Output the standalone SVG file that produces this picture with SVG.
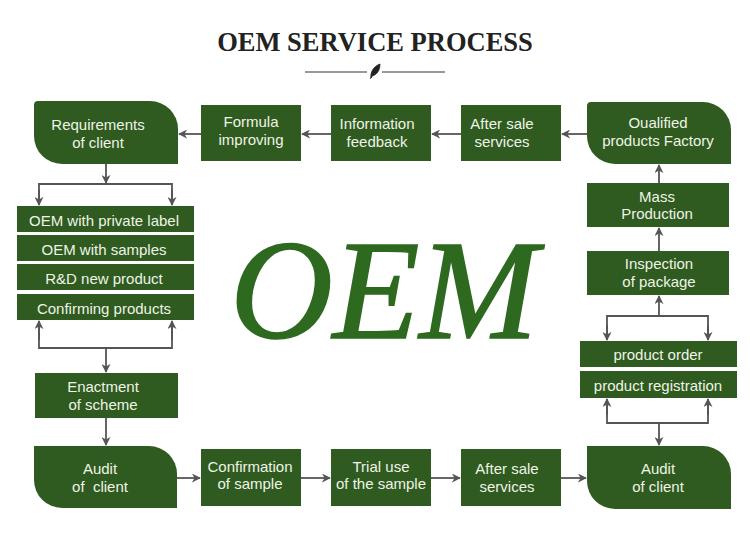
<svg xmlns="http://www.w3.org/2000/svg" width="750" height="537" viewBox="0 0 750 537">
<defs>
<style>
.b{fill:#2f5a20;}
.t{font-family:"Liberation Sans",Arial,sans-serif;font-size:15px;fill:#eef4e6;text-anchor:middle;}
.c{stroke:#555;stroke-width:1.8;fill:none;}
.a{stroke:#555;stroke-width:1.8;fill:none;marker-end:url(#ah);}
</style>
<marker id="ah" viewBox="0 0 10 10" refX="9" refY="5" markerWidth="5" markerHeight="5" orient="auto" markerUnits="strokeWidth">
<path d="M0,0 L10,5 L0,10 L3,5 Z" fill="#555"/>
</marker>
</defs>
<rect width="750" height="537" fill="#ffffff"/>

<g id="title">
<text x="375" y="51" font-family="Liberation Serif,Times New Roman,serif" font-weight="bold" font-size="26.5" fill="#222" text-anchor="middle">OEM SERVICE PROCESS</text>
<line x1="305" y1="72" x2="367" y2="72" stroke="#333" stroke-width="1"/>
<line x1="382" y1="72" x2="445" y2="72" stroke="#333" stroke-width="1"/>
<path d="M371,78 C370,72 374,66 380,64 C380,70 377,75 372,76 Z M372,76 L370,79" fill="#222" stroke="#222" stroke-width="0.8"/>
</g>

<g id="oem-big">
<text x="384" y="338" font-family="Liberation Serif,Times New Roman,serif" font-style="italic" font-size="142" fill="#2d6a1f" stroke="#2d6a1f" stroke-width="1.6" text-anchor="middle">OEM</text>
</g>

<g id="requirements">
<path class="b" d="M38,101 H150 A28,28 0 0 1 178,129 V164 H62 A28,28 0 0 1 34,136 V105 A4,4 0 0 1 38,101 Z"/>
<text class="t" x="98" y="130">Requirements</text>
<text class="t" x="98" y="148">of client</text>
</g>
<g id="formula">
<rect class="b" x="201" y="105" width="100" height="56"/>
<text class="t" x="251" y="127">Formula</text>
<text class="t" x="251" y="145">improving</text>
</g>
<g id="information">
<rect class="b" x="331" y="105" width="100" height="56"/>
<text class="t" x="377" y="129">Information</text>
<text class="t" x="377" y="147">feedback</text>
</g>
<g id="aftersale-top">
<rect class="b" x="461" y="105" width="100" height="56"/>
<text class="t" x="502" y="129">After sale</text>
<text class="t" x="502" y="147">services</text>
</g>
<g id="qualified">
<path class="b" d="M591,102 H703 A28,28 0 0 1 731,130 V164 H615 A28,28 0 0 1 587,136 V106 A4,4 0 0 1 591,102 Z"/>
<text class="t" x="658" y="128">Oualified</text>
<text class="t" x="658" y="146">products Factory</text>
</g>
<g id="mass">
<rect class="b" x="587" y="183" width="142" height="44"/>
<text class="t" x="657" y="202">Mass</text>
<text class="t" x="657" y="219">Production</text>
</g>
<g id="inspection">
<rect class="b" x="587" y="251" width="142" height="44"/>
<text class="t" x="659" y="269">Inspection</text>
<text class="t" x="659" y="287">of package</text>
</g>
<g id="product-order">
<rect class="b" x="580" y="341" width="157" height="26"/>
<text class="t" x="658" y="360">product order</text>
</g>
<g id="product-registration">
<rect class="b" x="580" y="371" width="157" height="27"/>
<text class="t" x="658" y="391">product registration</text>
</g>

<g id="list-1">
<rect class="b" x="17" y="206" width="177" height="26"/>
<text class="t" x="104" y="226">OEM with private label</text>
</g>
<g id="list-2">
<rect class="b" x="17" y="235" width="177" height="26"/>
<text class="t" x="104" y="255">OEM with samples</text>
</g>
<g id="list-3">
<rect class="b" x="17" y="264" width="177" height="26"/>
<text class="t" x="104" y="284">R&amp;D new product</text>
</g>
<g id="list-4">
<rect class="b" x="17" y="294" width="177" height="26"/>
<text class="t" x="104" y="314">Confirming products</text>
</g>
<g id="enactment">
<rect class="b" x="35" y="373" width="143" height="45"/>
<text class="t" x="103" y="392">Enactment</text>
<text class="t" x="103" y="410">of scheme</text>
</g>
<g id="audit-left">
<path class="b" d="M34,446 H149 A28,28 0 0 1 177,474 V508 H62 A28,28 0 0 1 34,480 Z"/>
<text class="t" x="100" y="474">Audit</text>
<text class="t" x="100" y="492" xml:space="preserve">of  client</text>
</g>
<g id="confirmation">
<rect class="b" x="201" y="449" width="100" height="57"/>
<text class="t" x="250" y="472">Confirmation</text>
<text class="t" x="250" y="489">of sample</text>
</g>
<g id="trial">
<rect class="b" x="331" y="449" width="100" height="57"/>
<text class="t" x="381" y="472">Trial use</text>
<text class="t" x="381" y="489">of the sample</text>
</g>
<g id="aftersale-bottom">
<rect class="b" x="461" y="449" width="100" height="57"/>
<text class="t" x="507" y="474">After sale</text>
<text class="t" x="507" y="492">services</text>
</g>
<g id="audit-right">
<path class="b" d="M587,446 H703 A28,28 0 0 1 731,474 V509 H615 A28,28 0 0 1 587,481 Z"/>
<text class="t" x="658" y="474">Audit</text>
<text class="t" x="658" y="492">of client</text>
</g>

<g id="connectors">
<line class="a" x1="201" y1="134" x2="179" y2="134"/>
<line class="a" x1="331" y1="134" x2="302" y2="134"/>
<line class="a" x1="461" y1="134" x2="432" y2="134"/>
<line class="a" x1="587" y1="134" x2="562" y2="134"/>
<line class="a" x1="106" y1="164" x2="106" y2="183"/>
<polyline class="c" points="39,205 39,184 172,184 172,205"/>
<line class="a" x1="39" y1="190" x2="39" y2="205"/>
<line class="a" x1="172" y1="190" x2="172" y2="205"/>
<polyline class="c" points="39,321 39,348 172,348 172,321"/>
<line class="a" x1="39" y1="340" x2="39" y2="321"/>
<line class="a" x1="172" y1="340" x2="172" y2="321"/>
<line class="a" x1="106" y1="348" x2="106" y2="372"/>
<line class="a" x1="106" y1="418" x2="106" y2="445"/>
<line class="a" x1="177" y1="478" x2="200" y2="478"/>
<line class="a" x1="301" y1="478" x2="330" y2="478"/>
<line class="a" x1="431" y1="478" x2="460" y2="478"/>
<line class="a" x1="561" y1="478" x2="586" y2="478"/>
<line class="a" x1="659" y1="183" x2="659" y2="165"/>
<line class="a" x1="659" y1="251" x2="659" y2="228"/>
<line class="a" x1="659" y1="316" x2="659" y2="296"/>
<polyline class="c" points="607,340 607,316 708,316 708,340"/>
<line class="a" x1="607" y1="325" x2="607" y2="340"/>
<line class="a" x1="708" y1="325" x2="708" y2="340"/>
<polyline class="c" points="607,399 607,423 708,423 708,399"/>
<line class="a" x1="607" y1="415" x2="607" y2="399"/>
<line class="a" x1="708" y1="415" x2="708" y2="399"/>
<line class="a" x1="659" y1="423" x2="659" y2="445"/>
</g>
</svg>
